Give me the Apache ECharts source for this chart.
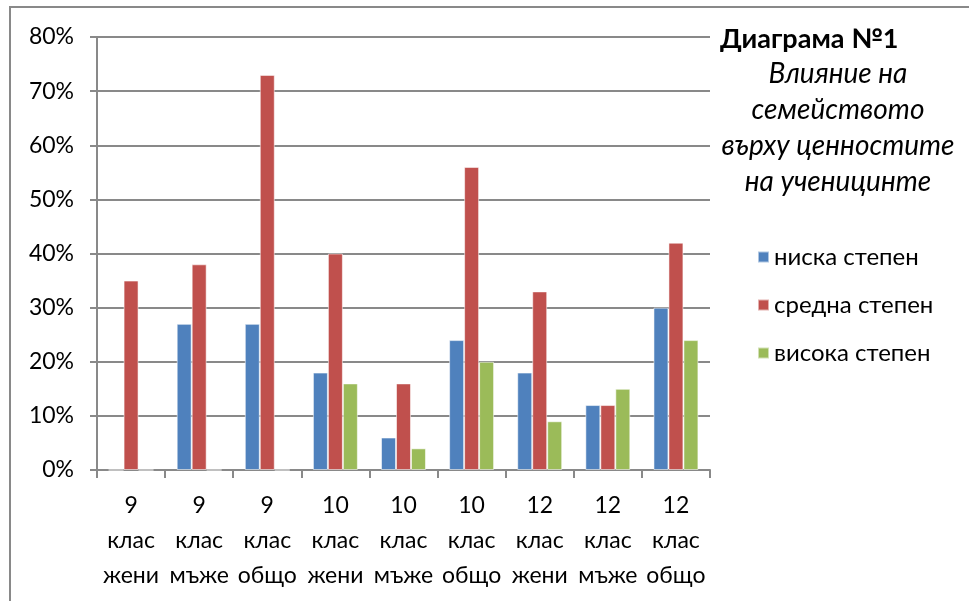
<!DOCTYPE html>
<html>
<head>
<meta charset="utf-8">
<script src="https://cdn.jsdelivr.net/npm/echarts@6/dist/echarts.min.js"></script>
<style>
  html, body { margin: 0; padding: 0; background: #fff; }
  #chart { width: 969px; height: 601px; }
</style>
</head>
<body>
<div id="chart"></div>
<script>
const categories = [
  '9\nклас\nжени', '9\nклас\nмъже', '9\nклас\nобщо',
  '10\nклас\nжени', '10\nклас\nмъже', '10\nклас\nобщо',
  '12\nклас\nжени', '12\nклас\nмъже', '12\nклас\nобщо',
];
const lowValues = [0, 27, 27, 18, 6, 24, 18, 12, 30];
const midValues = [35, 38, 73, 40, 16, 56, 33, 12, 42];
const highValues = [0, 0, 0, 16, 4, 20, 9, 15, 24];
const seriesNames = ['ниска степен', 'средна степен', 'висока степен'];
const seriesColors = ['#4F81BD', '#C0504D', '#9BBB59'];

const font = 'Lato, "Open Sans", sans-serif';
const gray = '#898989';

const chart = echarts.init(document.getElementById('chart'));

function bar(i, data) {
  return {
    name: seriesNames[i],
    type: 'bar',
    data: data,
    barGap: 0,
    barCategoryGap: '34%',
    itemStyle: {
      color: seriesColors[i],
      borderColor: 'rgba(255,255,255,0.55)',
      borderWidth: 1,
    },
  };
}

const option = {
  animation: false,
  backgroundColor: '#fff',
  textStyle: { fontFamily: font },
  graphic: [
    {
      type: 'rect',
      shape: { x: 10, y: 7, width: 1000, height: 700 },
      style: { fill: 'none', stroke: gray, lineWidth: 2 },
      silent: true,
    },
  ],
  title: [
    {
      text: 'Диаграма №1',
      left: 720,
      top: 26,
      padding: 0,
      textStyle: { fontFamily: font, fontWeight: 'bold', fontSize: 27, color: '#000' },
    },
    {
      text: 'Влияние на\nсемейството\nвърху ценностите\nна ученицинте',
      left: 838,
      top: 56,
      padding: 0,
      textAlign: 'center',
      textStyle: {
        fontFamily: font,
        fontStyle: 'italic',
        fontWeight: 'normal',
        fontSize: 28,
        lineHeight: 36,
        color: '#000',
      },
    },
  ],
  legend: {
    orient: 'vertical',
    left: 757,
    top: 245,
    padding: 0,
    itemWidth: 11,
    itemHeight: 11,
    itemGap: 24,
    icon: 'rect',
    textStyle: { fontFamily: font, fontSize: 24, color: '#000', lineHeight: 24 },
    data: seriesNames,
  },
  grid: { left: 97, right: 259, top: 37, bottom: 131 },
  xAxis: {
    type: 'category',
    data: categories,
    axisLine: { lineStyle: { color: gray, width: 2 } },
    axisTick: { show: true, length: 8, lineStyle: { color: gray, width: 2 } },
    axisLabel: {
      fontFamily: font,
      fontSize: 23,
      color: '#000',
      lineHeight: 35,
      margin: 18,
      interval: 0,
    },
  },
  yAxis: {
    type: 'value',
    min: 0,
    max: 80,
    interval: 10,
    axisLine: { show: true, lineStyle: { color: gray, width: 2 } },
    axisTick: { show: true, length: 7, lineStyle: { color: gray, width: 2 } },
    splitLine: { lineStyle: { color: gray, width: 2 } },
    axisLabel: {
      formatter: '{value}%',
      fontFamily: font,
      fontSize: 23,
      color: '#000',
      margin: 23,
    },
  },
  series: [bar(0, lowValues), bar(1, midValues), bar(2, highValues)],
};

chart.setOption(option);
</script>
</body>
</html>
